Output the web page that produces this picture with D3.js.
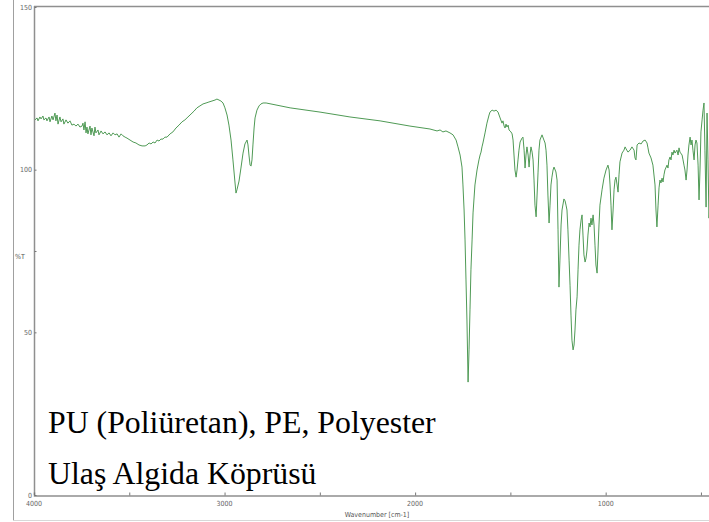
<!DOCTYPE html>
<html>
<head>
<meta charset="utf-8">
<script src="https://cdn.jsdelivr.net/npm/d3@7"></script>
<style>
  html, body { margin: 0; padding: 0; background: #fff; }
  svg { display: block; }
</style>
</head>
<body>
<svg id="chart" width="709" height="522"></svg>
<script>
// FTIR spectrum: wavenumber (cm-1) and transmittance (%T)
const wavenumber = [
  3995,3984,3979,3969,3963,3953,3948,3937,3932,3921,3916,3906,3900,3890,3885,3879,3874,3864,3858,3848,
  3843,3832,3822,3811,3801,3790,3780,3769,3759,3748,3743,3738,3732,3727,3722,3717,3706,3701,3696,3685,
  3680,3675,3664,3659,3648,3638,3627,3617,3606,3596,3585,3575,3564,3554,3543,3533,3522,3512,3496,3480,
  3465,3449,3433,3417,3407,3396,3386,3375,3365,3354,3344,3334,3323,3313,3302,3286,3271,3255,3239,3223,
  3208,3192,3176,3160,3145,3129,3113,3097,3082,3066,3050,3040,3029,3019,3008,2998,2987,2977,2966,2956,
  2945,2940,2935,2924,2914,2903,2893,2882,2877,2872,2866,2861,2856,2851,2845,2840,2830,2819,2809,2798,
  2782,2656,2499,2342,2184,2027,1922,1885,1869,1854,1838,1817,1801,1785,1775,1764,1754,1749,1743,1738,
  1733,1728,1722,1717,1712,1707,1701,1696,1686,1675,1665,1659,1654,1649,1644,1633,1623,1612,1607,1596,
  1586,1575,1565,1554,1544,1539,1533,1528,1523,1518,1512,1507,1497,1491,1486,1481,1476,1470,1465,1460,
  1455,1449,1439,1434,1428,1423,1418,1413,1407,1402,1397,1392,1386,1381,1376,1371,1365,1360,1355,1350,
  1345,1334,1324,1318,1313,1308,1303,1297,1292,1287,1282,1276,1271,1261,1255,1250,1245,1240,1234,1229,
  1219,1213,1208,1203,1198,1192,1187,1182,1177,1171,1166,1161,1156,1150,1145,1140,1135,1129,1124,1119,
  1114,1108,1103,1098,1093,1087,1082,1077,1072,1066,1061,1056,1051,1045,1040,1035,1030,1019,1009,998,
  988,982,977,972,967,961,956,951,946,940,935,930,925,914,904,898,893,883,872,862,
  851,846,841,835,825,814,804,793,783,778,773,762,752,741,736,731,725,720,715,710,
  704,699,694,689,678,673,668,662,657,652,647,641,636,626,620,615,610,599,594,589,
  584,578,573,568,563,557,552,547,542,536,531,526,521,515,510,505,500,494,489,484,
  479,473,468,463,458,452,442
];
const transmittance = [
  115.3,115.9,115.0,116.2,115.6,116.5,115.3,115.9,115.0,116.2,114.7,116.5,115.3,117.4,115.0,116.8,114.0,116.2,114.7,115.6,
  114.0,115.3,114.3,115.0,113.7,114.0,113.4,114.0,113.1,113.4,114.3,112.2,114.7,111.3,113.1,111.0,113.4,110.7,112.8,110.4,
  113.1,111.3,112.2,110.7,111.9,111.0,111.6,110.7,111.3,110.4,111.3,110.7,111.0,110.0,111.0,110.4,110.0,109.7,109.1,108.5,
  108.2,107.6,107.3,107.3,107.6,108.2,107.9,108.5,108.2,109.1,108.8,109.4,109.4,110.0,110.0,111.0,111.6,112.8,113.7,114.7,
  115.3,116.2,117.1,118.0,119.0,119.6,120.2,120.5,120.8,121.1,121.4,121.7,121.4,121.1,120.5,119.0,116.8,113.7,109.1,103.0,
  95.9,92.8,93.8,96.5,100.5,105.1,107.9,109.1,107.6,104.5,101.4,101.1,103.0,107.6,112.8,115.9,118.3,119.6,120.2,120.5,
  120.5,119.0,117.7,116.2,115.0,113.4,112.5,111.9,112.2,111.6,111.9,111.3,110.7,109.1,107.0,104.5,100.8,95.3,87.6,78.4,
  66.1,53.8,34.7,44.6,56.9,69.2,78.4,86.7,95.3,99.9,103.0,104.5,105.4,107.0,108.2,111.3,114.3,116.8,117.7,118.3,
  118.0,118.3,117.7,115.9,114.3,115.0,113.4,112.8,114.0,113.1,113.7,112.2,111.6,111.0,109.1,104.5,99.9,97.7,99.9,103.0,
  106.0,108.5,109.7,110.0,106.0,100.5,104.5,107.0,104.5,100.8,104.5,107.0,105.4,103.0,96.8,89.1,85.5,92.2,99.0,106.0,
  109.1,110.7,109.1,108.2,106.0,101.4,92.2,83.6,89.1,95.3,97.7,99.9,100.8,99.3,96.8,81.5,63.9,72.2,83.0,87.6,
  91.0,90.4,89.1,87.6,81.5,72.2,64.5,55.3,47.6,44.6,46.1,50.7,56.9,60.9,69.2,76.8,81.5,84.5,86.1,79.9,
  73.8,71.6,72.8,75.3,79.9,83.6,82.4,85.1,83.0,86.1,83.0,76.8,70.7,68.2,75.3,83.0,89.1,93.8,97.4,99.9,
  101.4,99.9,95.3,89.1,81.5,87.6,93.8,96.8,97.7,95.3,93.1,98.4,102.4,105.1,106.0,107.0,106.4,105.4,106.0,107.0,
  106.0,103.6,103.0,107.6,108.2,107.9,108.8,109.1,108.2,106.7,105.1,103.6,101.4,95.3,87.6,82.4,89.1,94.4,96.8,95.9,
  97.4,96.2,98.4,99.9,101.4,100.5,103.0,103.9,103.0,105.4,104.5,106.0,105.1,106.0,104.5,106.7,105.4,104.5,103.0,101.4,
  99.9,96.8,99.9,104.5,107.6,110.0,107.6,109.1,106.0,103.0,107.6,109.1,108.2,101.4,90.7,99.9,111.6,115.3,118.3,120.5,
  106.0,88.5,117.4,103.0,85.1,90.7,86.1
];

// Axis ticks and texts
const xTickLabels = [4000, 3000, 2000, 1000];
const xMinorTicks = [3500, 2500, 1500, 500];
const yTickLabels = [0, 50, 100, 150];
const yMinorTicks = [75];
const xTitle = "Wavenumber [cm-1]";
const yTitle = "%T";
const captionLines = ["PU (Poliüretan), PE, Polyester", "Ulaş Algida Köprüsü"];

const svg = d3.select("#chart");
const W = 709, H = 522;
const plot = { left: 34, top: 7, bottom: 495, right: 720 };

const x = d3.scaleLinear().domain([4000, 400]).range([plot.left, plot.right]);
const y = d3.scaleLinear().domain([0, 150]).range([plot.bottom, plot.top]);

const frameColor = "#8f8f8f";
const tickFont = "'Liberation Sans Narrow', 'DejaVu Sans Condensed', 'Liberation Sans', sans-serif";

// outer frame (left and bottom edges)
svg.append("line").attr("x1", 13.5).attr("x2", 13.5).attr("y1", 0).attr("y2", 520.5)
  .attr("stroke", "#a0a0a0").attr("stroke-width", 1);
svg.append("line").attr("x1", 13.5).attr("x2", W).attr("y1", 520.5).attr("y2", 520.5)
  .attr("stroke", "#d8d8d8").attr("stroke-width", 1);

// plot border: top and left
svg.append("line").attr("x1", plot.left).attr("x2", W).attr("y1", plot.top - 0.5).attr("y2", plot.top - 0.5)
  .attr("stroke", frameColor).attr("stroke-width", 1.5);
svg.append("line").attr("x1", plot.left + 0.5).attr("x2", plot.left + 0.5).attr("y1", plot.top - 1).attr("y2", plot.bottom)
  .attr("stroke", frameColor).attr("stroke-width", 1.5);

// x axis with inward ticks
const xAxis = d3.axisTop(x).tickValues(xTickLabels.concat(xMinorTicks)).tickSize(3).tickFormat("");
const gx = svg.append("g").attr("transform", `translate(0,${plot.bottom + 0.5})`).call(xAxis);
gx.select(".domain").attr("stroke", frameColor).attr("stroke-width", 1.5);
gx.selectAll(".tick line").attr("stroke", "#777");

svg.append("g").selectAll("text").data(xTickLabels).join("text")
  .attr("x", d => x(d)).attr("y", 506)
  .attr("text-anchor", "middle")
  .attr("font-family", tickFont).attr("font-size", 7).attr("fill", "#666")
  .text(d => d);

// y axis with inward ticks
const yAxis = d3.axisRight(y).tickValues(yTickLabels.concat(yMinorTicks)).tickSize(2).tickFormat("");
const gy = svg.append("g").attr("transform", `translate(${plot.left + 0.5},0)`).call(yAxis);
gy.select(".domain").remove();
gy.selectAll(".tick line").attr("stroke", "#777");

svg.append("g").selectAll("text").data(yTickLabels).join("text")
  .attr("x", plot.left - 2).attr("y", d => y(d) + 2.5)
  .attr("text-anchor", "end")
  .attr("font-family", tickFont).attr("font-size", 7).attr("fill", "#666")
  .text(d => d);

// axis titles
svg.append("text").attr("x", (plot.left + plot.right) / 2).attr("y", 517)
  .attr("text-anchor", "middle")
  .attr("font-family", tickFont).attr("font-size", 7).attr("fill", "#555")
  .text(xTitle);
svg.append("text").attr("x", 20).attr("y", 259)
  .attr("text-anchor", "middle")
  .attr("font-family", tickFont).attr("font-size", 7).attr("fill", "#555")
  .text(yTitle);

// spectrum trace
const pts = wavenumber.map((w, i) => [w, transmittance[i]]);
const line = d3.line().x(d => x(d[0])).y(d => y(d[1]));
svg.append("path").datum(pts)
  .attr("d", line)
  .attr("fill", "none")
  .attr("stroke", "#4f9a55")
  .attr("stroke-width", 1)
  .attr("stroke-linejoin", "round");

// caption
svg.append("g").selectAll("text").data(captionLines).join("text")
  .attr("x", 48).attr("y", (d, i) => 433 + i * 51)
  .attr("font-family", "'Liberation Serif', 'Times New Roman', serif")
  .attr("font-size", 31.8).attr("fill", "#000")
  .text(d => d);
</script>
</body>
</html>
